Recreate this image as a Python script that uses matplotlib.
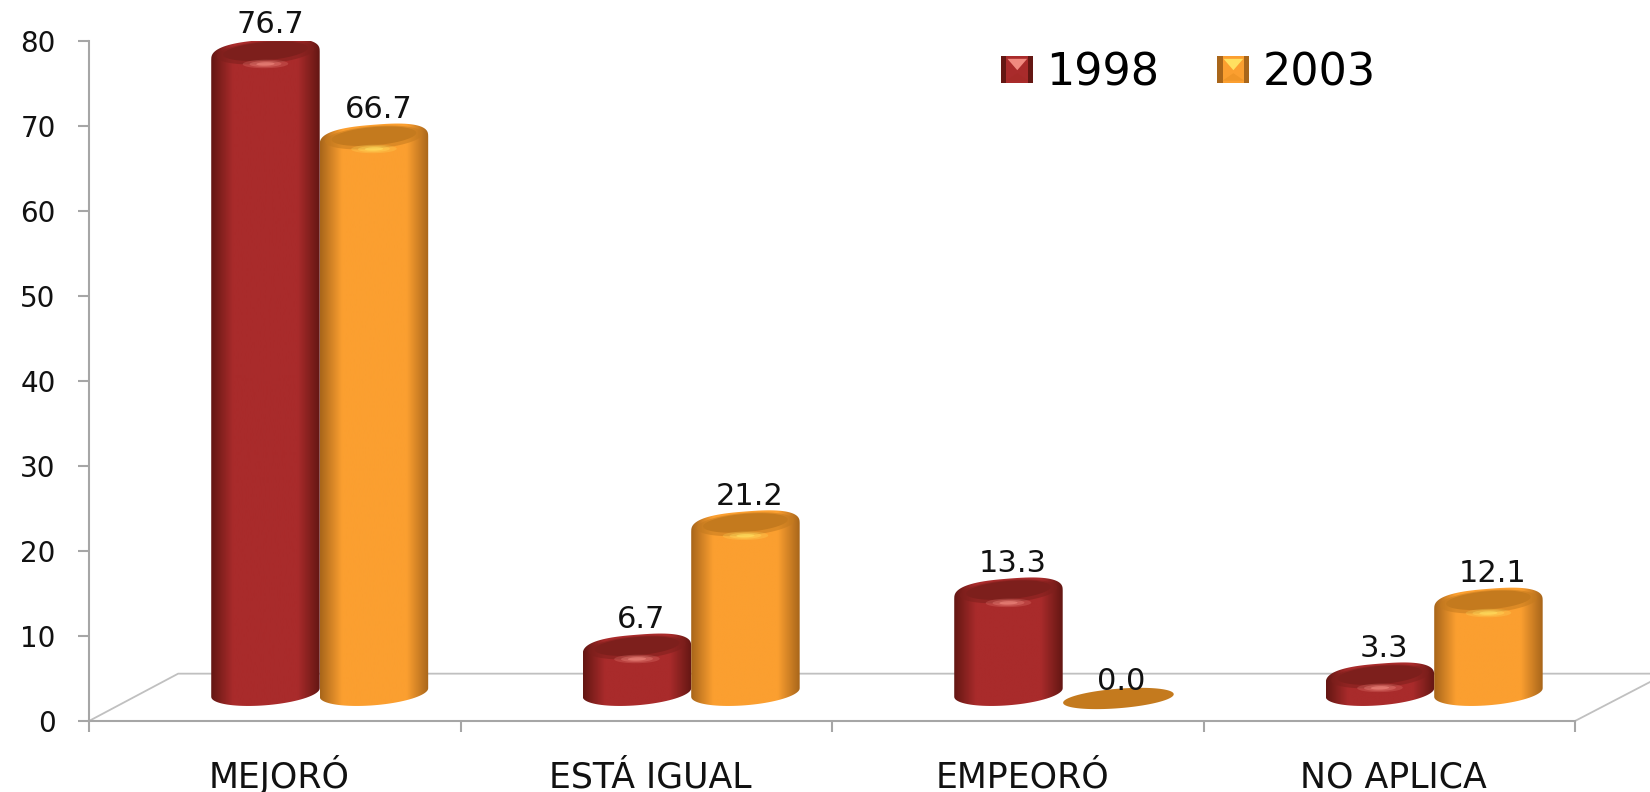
import matplotlib
matplotlib.use('Agg')
import matplotlib.pyplot as plt
import numpy as np
from matplotlib.colors import LinearSegmentedColormap
from matplotlib.legend_handler import HandlerBase
from matplotlib.patches import Patch, PathPatch, Polygon
from matplotlib.path import Path

categories = ['MEJORÓ', 'ESTÁ IGUAL', 'EMPEORÓ', 'NO APLICA']
years = ['1998', '2003']
values_1998 = [76.7, 6.7, 13.3, 3.3]
values_2003 = [66.7, 21.2, 0.0, 12.1]
y_ticks = [0, 10, 20, 30, 40, 50, 60, 70, 80]

RED = {'edge': '#641713', 'mid': '#a92b2b', 'top': '#7d1f1c', 'rim': '#a62a28', 'hi': '#f08a80'}
ORANGE = {'edge': '#a9661a', 'mid': '#fb9f30', 'top': '#c47a1e', 'rim': '#f09628', 'hi': '#ffe060'}

# the floor of the fake 3d box, in data units
base = 1.6
foot = 3.35
flat = 2.65
bar_w = 0.292
cap_h = 1.85
tilt = 0.5


def ellipse(cx, cy, a, b, k):
    t = np.linspace(0, 2 * np.pi, 90)
    return np.column_stack([cx + a * np.cos(t), cy + b * np.sin(t) + k * np.cos(t)])


def draw_cylinder(ax, left, value, c, z):
    a = bar_w / 2
    cx = left + a
    top = base + value

    if value == 0:
        ax.add_patch(Polygon(ellipse(cx + 0.004, flat, a * 1.02, 1.15, 0.5), fc=c['top'], ec='none', zorder=z))
        return

    t = np.linspace(np.pi, 2 * np.pi, 45)
    low = np.column_stack([cx + a * np.cos(t), foot + 1.5 * np.sin(t) + tilt * np.cos(t)])
    # squarer shoulders than a plain ellipse
    t = np.linspace(0, np.pi, 45)
    cs = np.sign(np.cos(t)) * np.abs(np.cos(t)) ** 0.75
    sn = np.sin(t) ** 0.75
    high = np.column_stack([cx + a * cs, top + cap_h * sn + tilt * cs])
    outline = Path(np.vstack([low, high, low[:1]]))

    cmap = LinearSegmentedColormap.from_list('c', [(0, c['edge']), (0.2, c['mid']), (0.8, c['mid']), (1, c['edge'])])
    grad = cmap(np.linspace(0, 1, 200))[None, :, :3]
    im = ax.imshow(grad, extent=[left, left + bar_w, foot - 4, top + 4], aspect='auto', zorder=z, interpolation='bilinear')
    clip = PathPatch(outline, transform=ax.transData, fc='none', ec='none')
    ax.add_patch(clip)
    im.set_clip_path(clip)

    # dark lid and a soft shine under it
    ax.add_patch(Polygon(ellipse(cx, top + 0.35, a * 0.9, cap_h * 0.72, tilt * 0.9), fc=c['top'], ec='none', alpha=0.55, zorder=z + 0.1))
    ax.add_patch(Polygon(ellipse(cx, top + 0.5, a * 0.78, cap_h * 0.58, tilt * 0.8), fc=c['top'], ec='none', zorder=z + 0.2))
    for grow, al in [(1.0, 0.25), (0.7, 0.35), (0.4, 0.6)]:
        ax.add_patch(Polygon(ellipse(cx, top - 1.0, a * 0.42 * grow, 0.5 * grow, 0.03), fc=c['hi'], ec='none', alpha=al, zorder=z + 0.3))


class BevelHandler(HandlerBase):
    def create_artists(self, legend, orig, xd, yd, w, h, fontsize, trans):
        c = orig.colors
        x0, y0 = -xd, -yd
        x1, y1 = x0 + w, y0 + h
        dx, dy = w * 0.16, h * 0.22
        ix0, ix1, iy0 = x0 + dx, x1 - dx, y0 + dy
        mx = (x0 + x1) / 2
        parts = [
            ([(x0, y0), (x1, y0), (x1, y1), (x0, y1)], c['edge']),
            ([(ix0, y0), (ix1, y0), (ix1, y1), (ix0, y1)], c['mid']),
            ([(x0 + dx * 1.2, y1 - h * 0.1), (x1 - dx * 1.2, y1 - h * 0.1), (mx, iy0 + dy * 1.2)], c['hi']),
            ([(ix0, y0 + h * 0.1), (ix1, y0 + h * 0.1), (mx, iy0 + dy * 0.7)], c['rim']),
        ]
        return [Polygon(p, fc=col, ec='none', transform=trans) for p, col in parts]


fig = plt.figure(figsize=(16.5, 7.92), dpi=100)
ax = fig.add_axes([89 / 1650, 1 - 721 / 792, (1575 - 89) / 1650, (721 - 41) / 792])

for i in range(4):
    for j, (vals, col) in enumerate([(values_1998, RED), (values_2003, ORANGE)]):
        left = i + 0.329 + j * bar_w
        draw_cylinder(ax, left, vals[i], col, 3 + i + j * 0.5)
        gap = 3.6 if vals[i] > 0 else 3.1
        ax.text(left + bar_w / 2 + 0.012, base + vals[i] + gap, f'{vals[i]:.1f}', ha='center', va='center',
                fontsize=22, color='#111111', zorder=20, clip_on=False)

# floor lines
grey = '#c0c0c0'
ax.plot([0, 0.24, 4.25], [0, 5.57, 5.57], color=grey, lw=1.3, zorder=1, clip_on=False)
ax.plot([4, 4.22], [0, 5.0], color=grey, lw=1.3, zorder=1, clip_on=False)

ax.set_xlim(0, 4)
ax.set_ylim(0, 80)
ax.set_xticks(range(5))
ax.set_xticklabels([])
ax.set_xticks(np.arange(4) + 0.512, categories, minor=True, fontsize=25, color='#111111')
for lab in ax.get_xticklabels(minor=True):
    lab.set_verticalalignment('baseline')
ax.set_yticks(y_ticks)
ax.tick_params(axis='x', which='major', length=8, width=1.5, color='#a6a6a6')
ax.tick_params(axis='x', which='minor', length=0, pad=48)
ax.tick_params(axis='y', length=8, width=1.5, color='#a6a6a6', labelsize=20, pad=16, labelcolor='#111111')

for s in ['top', 'right']:
    ax.spines[s].set_visible(False)
for s in ['left', 'bottom']:
    ax.spines[s].set_color('#a6a6a6')
    ax.spines[s].set_linewidth(1.5)

h1 = Patch(label=years[0])
h1.colors = RED
h2 = Patch(label=years[1])
h2.colors = ORANGE
ax.legend(handles=[h1, h2], ncol=2, frameon=False, fontsize=32, loc='center left',
          bbox_to_anchor=(0.587, 0.953), handler_map={Patch: BevelHandler()},
          handlelength=0.72, handleheight=0.57, handletextpad=0.3, columnspacing=1.3)

fig.savefig('out.png', dpi=100)
